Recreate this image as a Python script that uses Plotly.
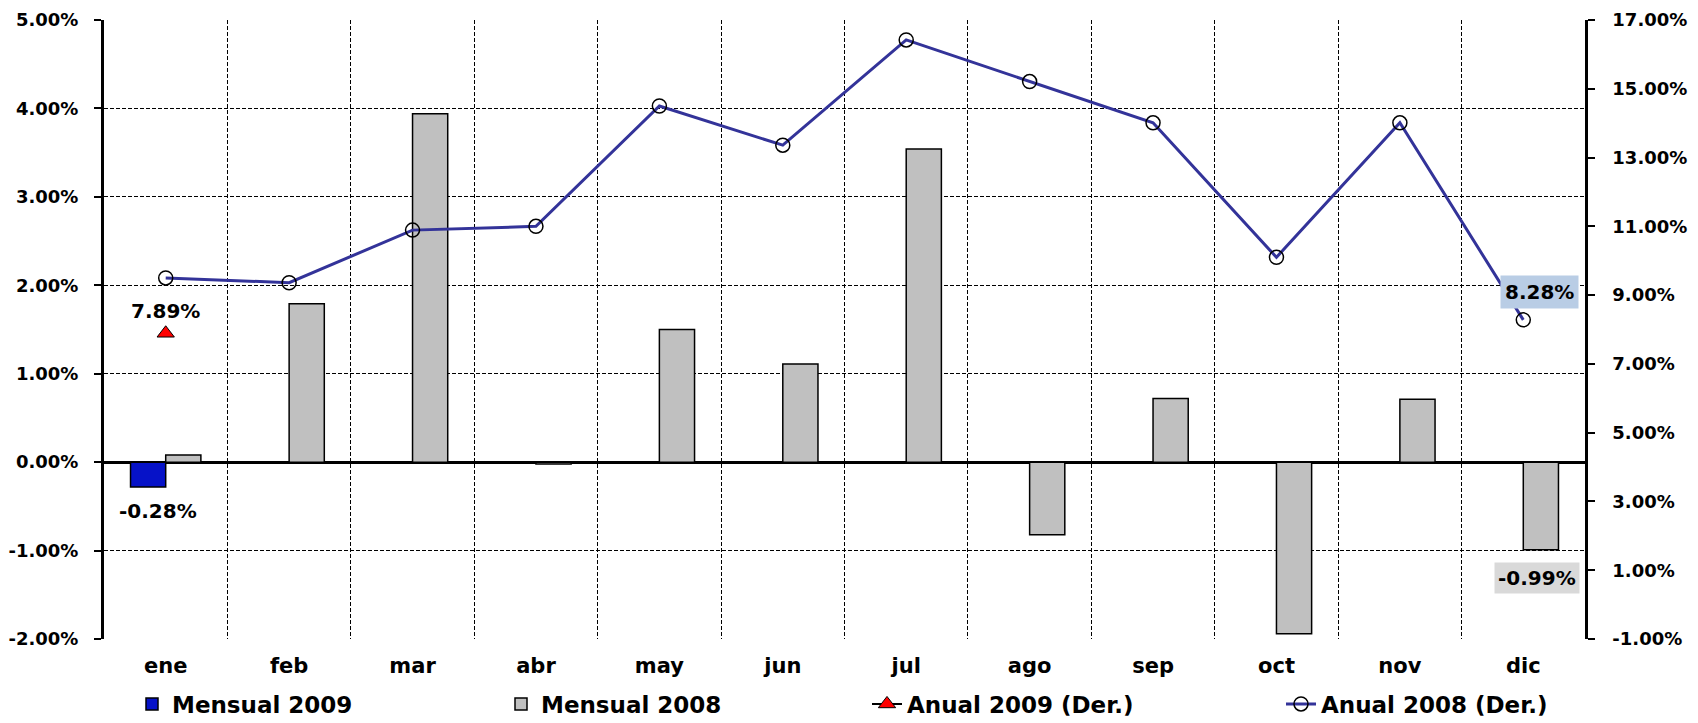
import plotly.graph_objects as go

months = ["ene", "feb", "mar", "abr", "may", "jun", "jul", "ago", "sep", "oct", "nov", "dic"]
mensual_2009 = [-0.28, None, None, None, None, None, None, None, None, None, None, None]
mensual_2008 = [0.08, 1.79, 3.94, -0.02, 1.50, 1.11, 3.54, -0.82, 0.72, -1.94, 0.71, -0.99]
anual_2009 = [7.89, None, None, None, None, None, None, None, None, None, None, None]
anual_2008 = [9.50, 9.36, 10.89, 11.00, 14.50, 13.36, 16.42, 15.21, 14.01, 10.10, 14.01, 8.28]

left_ticks = [-2, -1, 0, 1, 2, 3, 4, 5]
right_ticks = [-1, 1, 3, 5, 7, 9, 11, 13, 15, 17]

FONT = "DejaVu Sans"
DASH = "4px,2px"
OFF = 8                      # default page (body) margin of the HTML page
PAGE_W, PAGE_H = 1698, 723
W, H = PAGE_W - OFF, PAGE_H - OFF
ML, MR, MT = 104 - OFF, 113, 20 - OFF
PLOT_BOTTOM = 639 - OFF      # plot-area bottom, in figure pixels
paper_h = H - MT
y_dom0 = (H - PLOT_BOTTOM) / paper_h
plot_w = W - ML - MR


def px_x(page_px):
    return (page_px - OFF - ML) / plot_w


def px_y(page_px):
    return (H - (page_px - OFF)) / paper_h


fig = go.Figure()

fig.add_trace(go.Bar(
    x=months, y=mensual_2009, name="Mensual 2009", legend="legend",
    marker=dict(color="#0612c8", line=dict(color="#000000", width=1.5)),
))
fig.add_trace(go.Bar(
    x=months, y=mensual_2008, name="Mensual 2008", legend="legend2",
    marker=dict(color="#c0c0c0", line=dict(color="#000000", width=1.5)),
))
fig.add_trace(go.Scatter(
    x=months, y=anual_2009, name="Anual 2009 (Der.)", yaxis="y2", legend="legend3",
    mode="lines+markers+text",
    line=dict(color="#000000", width=2),
    marker=dict(symbol="triangle-up", size=15, color="#ff0000",
                line=dict(color="#000000", width=1)),
    text=[f"{v:.2f}%" if v is not None else "" for v in anual_2009],
    textposition="top center",
    textfont=dict(family=FONT, size=20, color="#000000", weight="bold"),
))
fig.add_trace(go.Scatter(
    x=months, y=anual_2008, name="Anual 2008 (Der.)", yaxis="y2", legend="legend4",
    mode="lines+markers",
    line=dict(color="#333399", width=3),
    marker=dict(symbol="circle-open", size=14, color="#000000",
                line=dict(color="#000000", width=1.5)),
))

# data labels
fig.add_annotation(x=months[0], y=mensual_2009[0], xref="x", yref="y",
                   text=f"{mensual_2009[0]:.2f}%", showarrow=False,
                   xshift=-8, yshift=-10, yanchor="top",
                   font=dict(family=FONT, size=20, color="#000000", weight="bold"))
fig.add_annotation(x=months[-1], y=mensual_2008[-1], xref="x", yref="y",
                   text=f"{mensual_2008[-1]:.2f}%", showarrow=False,
                   xshift=14, yshift=-12, yanchor="top",
                   bgcolor="#d9d9d9", borderpad=3,
                   font=dict(family=FONT, size=20, color="#000000", weight="bold"))
fig.add_annotation(x=months[-1], y=anual_2008[-1], xref="x", yref="y2",
                   text=f"{anual_2008[-1]:.2f}%", showarrow=False,
                   xshift=16, yshift=28,
                   bgcolor="#b9cde5", borderpad=4,
                   font=dict(family=FONT, size=20, color="#000000", weight="bold"))

legend_font = dict(family=FONT, size=23, color="#000000", weight="bold")
legend_y = px_y(704)


def leg(page_x):
    return dict(orientation="h", x=px_x(page_x), xanchor="left", y=legend_y, yanchor="middle",
                font=legend_font, bgcolor="rgba(0,0,0,0)", borderwidth=0)


fig.update_layout(
    width=W, height=H,
    margin=dict(l=ML, r=MR, t=MT, b=0, autoexpand=False),
    paper_bgcolor="#ffffff", plot_bgcolor="#ffffff",
    barmode="group", bargap=0.43, bargroupgap=0,
    font=dict(family=FONT, color="#000000"),
    showlegend=True,
    legend=leg(132), legend2=leg(501), legend3=leg(867), legend4=leg(1281),
    xaxis=dict(
        type="category", categoryorder="array", categoryarray=months,
        range=[-0.5, len(months) - 0.5], autorange=False,
        tickson="boundaries", ticks="",
        showgrid=True, gridcolor="#000000", gridwidth=1, griddash=DASH,
        showline=False, zeroline=False,
        tickfont=dict(family=FONT, size=21, color="#000000", weight="bold"),
        ticklabelstandoff=12, anchor="y",
    ),
    yaxis=dict(
        domain=[y_dom0, 1],
        range=[-2, 5], tickvals=left_ticks,
        ticktext=[f"{v:.2f}%" for v in left_ticks],
        showgrid=True, gridcolor="#000000", gridwidth=1, griddash=DASH,
        zeroline=True, zerolinecolor="#000000", zerolinewidth=2.5,
        showline=True, linecolor="#000000", linewidth=3,
        ticks="outside", ticklen=7, tickcolor="#000000", tickwidth=1.5,
        tickfont=dict(family=FONT, size=18, color="#000000", weight="bold"),
        ticklabelstandoff=12, ticklabeloverflow="allow",
    ),
    yaxis2=dict(
        range=[-1, 17], tickvals=right_ticks,
        ticktext=[f"{v:.2f}%" for v in right_ticks],
        overlaying="y", side="right",
        showgrid=False, zeroline=False,
        showline=True, linecolor="#000000", linewidth=2.5,
        ticks="outside", ticklen=7, tickcolor="#000000", tickwidth=1.5,
        tickfont=dict(family=FONT, size=18, color="#000000", weight="bold"),
        ticklabelstandoff=14, ticklabeloverflow="allow",
    ),
)

fig.write_html("out.html")
